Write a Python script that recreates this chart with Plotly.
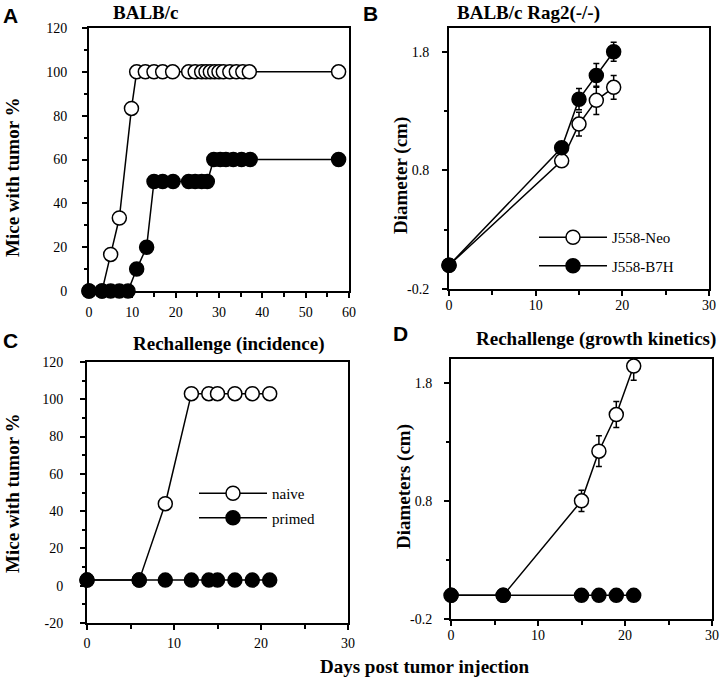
import plotly.graph_objects as go

W, H = 720, 689

# ---------------- Data ----------------
# Panel A: BALB/c incidence (%)
a_neo_days = [0, 3, 5, 7, 9.8, 11, 13, 15, 17, 19.3, 23, 24.5, 26, 27, 28, 29, 30, 31, 32.5, 34, 35.5, 37, 57.6]
a_neo_pct = [0, 0, 16.7, 33.3, 83.3, 100, 100, 100, 100, 100, 100, 100, 100, 100, 100, 100, 100, 100, 100, 100, 100, 100, 100]
a_b7h_days = [0, 3, 5, 7, 9, 11, 13.3, 15, 17, 19.4, 23, 24.5, 26, 27.3, 28.8, 30.3, 31.6, 33.3, 35.2, 37.2, 57.6]
a_b7h_pct = [0, 0, 0, 0, 0, 10, 20, 50, 50, 50, 50, 50, 50, 50, 60, 60, 60, 60, 60, 60, 60]

# Panel B: BALB/c Rag2(-/-) diameter (cm)
b_days = [0, 13, 15, 17, 19]
b_neo_diam = [0.0, 0.88, 1.19, 1.39, 1.50]
b_neo_err = [0, 0.04, 0.10, 0.12, 0.10]
b_b7h_diam = [0.0, 0.99, 1.40, 1.60, 1.80]
b_b7h_err = [0, 0.05, 0.09, 0.10, 0.08]

# Panel C: Rechallenge incidence (%)
c_days = [0, 6, 9, 12, 14, 15, 17, 19, 21]
c_naive_pct = [3, 3, 44, 103, 103, 103, 103, 103, 103]
c_primed_pct = [3, 3, 3, 3, 3, 3, 3, 3, 3]

# Panel D: Rechallenge growth kinetics (cm)
d_days = [0, 6, 15, 17, 19, 21]
d_naive_diam = [0.0, 0.0, 0.80, 1.22, 1.53, 1.94]
d_naive_err = [0, 0, 0.09, 0.13, 0.11, 0.12]
d_primed_diam = [0.0, 0.0, 0.0, 0.0, 0.0, 0.0]

# Tick labels
pct_ticks = [0, 20, 40, 60, 80, 100, 120]
pct_ticks_c = [-20, 0, 20, 40, 60, 80, 100, 120]
cm_ticks = [-0.2, 0.8, 1.8]

SERIF = "Liberation Serif"
SANS = "Liberation Sans"


def px(x):
    return x / W


def py(y):
    return 1 - y / H


fig = go.Figure()


def add(xs, ys, xa, ya, filled, name=None, legend=None, err=None, clip=False):
    fig.add_trace(go.Scatter(
        x=xs, y=ys, xaxis=xa, yaxis=ya, mode="lines+markers",
        name=name, showlegend=name is not None, legend=legend or "legend",
        legendgroup=name,
        line=dict(color="black", width=1.5),
        marker=dict(size=14, color="black" if filled else "white",
                    line=dict(color="black", width=1.5)),
        error_y=dict(type="data", array=err, visible=True, color="black",
                     thickness=1.5, width=3) if err is not None else None,
        cliponaxis=clip,
    ))


# Panel A
add(a_neo_days, a_neo_pct, "x", "y", False)
add(a_b7h_days, a_b7h_pct, "x", "y", True)
# Panel B
add(b_days, b_neo_diam, "x2", "y2", False, name="J558-Neo", legend="legend", err=b_neo_err)
add(b_days, b_b7h_diam, "x2", "y2", True, name="J558-B7H", legend="legend", err=b_b7h_err)
# Panel C
add(c_days, c_naive_pct, "x3", "y3", False, name="naive", legend="legend2")
add(c_days, c_primed_pct, "x3", "y3", True, name="primed", legend="legend2")
# Panel D
add(d_days, d_naive_diam, "x4", "y4", False, err=d_naive_err, clip=True)
add(d_days, d_primed_diam, "x4", "y4", True)


def xaxis(dom, anchor, rng, standoff):
    return dict(domain=[px(dom[0]), px(dom[1])], anchor=anchor, range=rng,
                automargin=False,
                tickmode="linear", tick0=0, dtick=10,
                ticks="outside", ticklen=5, tickwidth=1.5, tickcolor="black",
                minor=dict(ticks="outside", ticklen=4, tickwidth=1.5, tickcolor="black",
                           tickmode="linear", tick0=0, dtick=5),
                showline=True, linewidth=2, linecolor="black", mirror=True,
                showgrid=False, zeroline=False,
                tickfont=dict(family=SERIF, size=14, color="black"),
                ticklabelstandoff=standoff)


def yaxis(dom, anchor, rng, vals, texts, mtick0, mdtick, standoff):
    return dict(domain=[py(dom[1]), py(dom[0])], anchor=anchor, range=rng,
                automargin=False,
                tickmode="array", tickvals=vals, ticktext=texts,
                ticks="outside", ticklen=5, tickwidth=1.5, tickcolor="black",
                minor=dict(ticks="outside", ticklen=3, tickwidth=1.5, tickcolor="black",
                           tickmode="linear", tick0=mtick0, dtick=mdtick),
                showline=True, linewidth=2, linecolor="black", mirror=True,
                showgrid=False, zeroline=False,
                tickfont=dict(family=SERIF, size=14, color="black"),
                ticklabelstandoff=standoff)


fig.update_layout(
    width=W, height=H, margin=dict(l=0, r=0, t=0, b=0, autoexpand=False),
    paper_bgcolor="white", plot_bgcolor="white",
    font=dict(family=SERIF, color="black"),
    xaxis=xaxis((89, 349), "y", [0, 60], 2),
    yaxis=yaxis((28, 291), "x", [0, 120], pct_ticks, [str(v) for v in pct_ticks], 0, 10, 12),
    xaxis2=xaxis((449, 709), "y2", [0, 30], -3),
    yaxis2=yaxis((28, 289), "x2", [-0.2, 2.0], cm_ticks, ["-0.2", "0.8", "1.8"], -0.2, 0.5, 10),
    xaxis3=xaxis((87, 348), "y3", [0, 30], 1),
    yaxis3=yaxis((362, 623), "x3", [-20, 120], pct_ticks_c, [str(v) for v in pct_ticks_c], 0, 10, 14),
    xaxis4=xaxis((451, 712), "y4", [0, 30], -3),
    yaxis4=yaxis((359, 619), "x4", [-0.2, 2.0], cm_ticks, ["-0.2", "0.8", "1.8"], -0.2, 0.5, 9),
    legend=dict(x=px(534), y=py(221), xanchor="left", yanchor="top",
                bgcolor="rgba(0,0,0,0)", font=dict(family=SERIF, size=15, color="black"),
                itemwidth=68, tracegroupgap=6),
    legend2=dict(x=px(194), y=py(477), xanchor="left", yanchor="top",
                 bgcolor="rgba(0,0,0,0)", font=dict(family=SERIF, size=15, color="black"),
                 itemwidth=68, tracegroupgap=2),
)

annotations = []


def note(text, x, y, size, family=SERIF, angle=0, bold=True):
    annotations.append(dict(
        text="<b>%s</b>" % text if bold else text, x=px(x), y=py(y),
        xref="paper", yref="paper", xanchor="center", yanchor="middle",
        showarrow=False, textangle=angle,
        font=dict(family=family, size=size, color="black")))


# Panel letters
note("A", 10, 15, 21, SANS)
note("B", 371, 14, 21, SANS)
note("C", 10, 340, 21, SANS)
note("D", 400, 333, 21, SANS)
# Panel titles
note("BALB/c", 145, 13, 19)
note("BALB/c Rag2(-/-)", 528, 13, 19)
note("Rechallenge (incidence)", 229, 344, 19)
note("Rechallenge (growth kinetics)", 596, 339, 19)
# Axis titles
note("Mice with tumor %", 12, 177, 19, angle=-90)
note("Diameter (cm)", 401, 176, 19, angle=-90)
note("Mice with tumor %", 12, 493, 19, angle=-90)
note("Diameters (cm)", 404, 487, 19, angle=-90)
note("Days post tumor injection", 425, 666, 19)

fig.update_layout(annotations=annotations)

fig.write_html("out.html", config={"displayModeBar": False},
               post_script="document.body.style.margin='0';")
